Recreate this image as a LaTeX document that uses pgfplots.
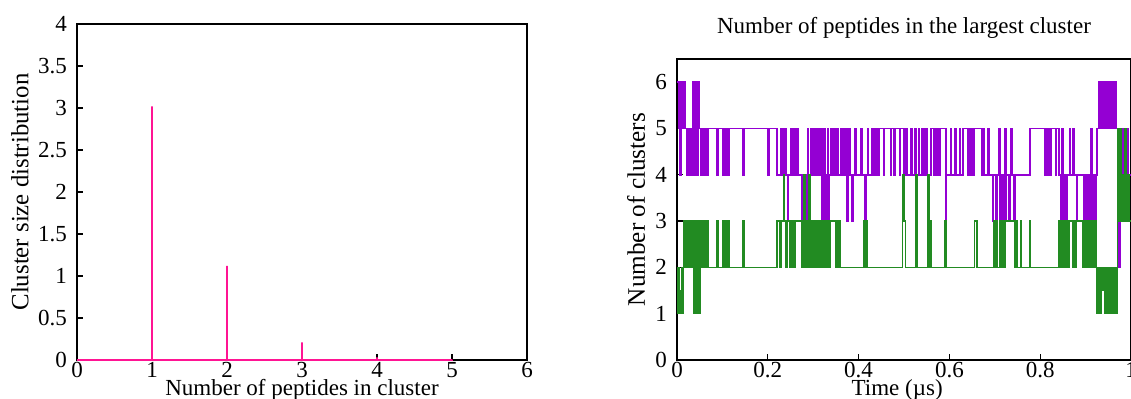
\documentclass[border=0pt]{standalone}
\usepackage{fontspec}
\setmainfont{Liberation Serif}
\usepackage{pgfplots}
\pgfplotsset{compat=1.18}
\usepackage{pgfplotstable}
\definecolor{dpink}{RGB}{255,20,147}
\definecolor{dviolet}{RGB}{148,0,211}
\definecolor{fgreen}{RGB}{34,139,34}

\pgfplotstableread{
t v
0.000 6
0.003 5
0.004 6
0.007 4
0.009 6
0.011 5
0.013 6
0.015 5
0.017 6
0.019 5
0.021 4
0.023 5
0.025 4
0.027 5
0.029 4
0.031 5
0.033 4
0.035 6
0.037 4
0.039 6
0.041 4
0.043 6
0.045 4
0.047 6
0.049 5
0.052 4
0.054 5
0.057 4
0.059 5
0.063 4
0.065 5
0.067 4
0.068 5
0.088 4
0.090 5
0.101 4
0.103 5
0.105 4
0.107 5
0.109 4
0.111 5
0.113 4
0.115 5
0.146 4
0.148 5
0.200 4
0.202 5
0.220 4
0.228 5
0.230 4
0.233 5
0.235 4
0.238 5
0.240 4
0.244 3
0.246 4
0.250 5
0.252 4
0.255 5
0.257 4
0.260 5
0.262 4
0.266 5
0.268 4
0.275 3
0.278 4
0.280 3
0.283 4
0.285 3
0.287 5
0.290 4
0.292 3
0.294 5
0.297 4
0.300 5
0.303 4
0.306 5
0.309 4
0.312 5
0.315 4
0.318 3
0.320 5
0.322 3
0.324 5
0.326 3
0.328 4
0.330 3
0.332 5
0.334 3
0.336 4
0.338 5
0.341 4
0.346 5
0.348 4
0.352 5
0.354 4
0.360 5
0.362 4
0.364 5
0.366 4
0.368 5
0.370 4
0.372 5
0.374 3
0.376 4
0.379 5
0.381 4
0.385 3
0.387 4
0.392 5
0.394 4
0.405 5
0.407 4
0.414 3
0.416 4
0.420 5
0.422 4
0.430 5
0.432 4
0.434 5
0.436 4
0.438 5
0.440 4
0.442 5
0.444 4
0.446 5
0.455 4
0.457 5
0.470 4
0.472 5
0.478 4
0.480 5
0.490 4
0.492 5
0.500 4
0.502 5
0.504 4
0.506 5
0.508 4
0.515 5
0.517 4
0.524 5
0.526 3
0.529 4
0.532 5
0.534 4
0.540 5
0.542 4
0.544 5
0.546 4
0.548 5
0.550 4
0.554 3
0.556 4
0.560 5
0.566 4
0.568 5
0.571 4
0.574 5
0.577 4
0.580 5
0.592 3
0.594 4
0.602 5
0.604 4
0.612 5
0.614 4
0.622 5
0.624 4
0.630 5
0.640 4
0.642 5
0.646 4
0.649 5
0.652 4
0.655 5
0.672 4
0.675 5
0.677 4
0.685 5
0.687 4
0.695 3
0.697 4
0.703 3
0.706 4
0.709 5
0.711 3
0.714 4
0.717 3
0.720 4
0.722 5
0.724 3
0.726 4
0.731 3
0.733 4
0.736 5
0.738 4
0.742 3
0.744 4
0.778 5
0.810 4
0.813 5
0.816 4
0.819 5
0.822 4
0.825 5
0.834 4
0.836 5
0.842 4
0.845 3
0.848 5
0.851 3
0.854 4
0.857 3
0.860 4
0.865 5
0.867 4
0.872 5
0.874 4
0.880 3
0.882 4
0.896 3
0.899 4
0.902 3
0.905 4
0.908 3
0.911 5
0.914 3
0.917 4
0.920 3
0.923 4
0.925 5
0.928 6
0.931 5
0.934 6
0.937 5
0.940 6
0.943 5
0.946 6
0.949 5
0.952 6
0.955 5
0.958 6
0.961 5
0.964 6
0.967 5
0.970 4
0.972 2
0.976 4
0.979 5
0.982 4
0.985 5
0.988 4
0.991 5
0.994 4
1.000 4
}\purpletable

\pgfplotstableread{
t v
0.000 1
0.002 2
0.004 1
0.006 1.5
0.008 1
0.010 2
0.012 1
0.014 2
0.016 3
0.018 2
0.020 3
0.022 2
0.024 3
0.026 2
0.028 3
0.030 2
0.032 3
0.034 2
0.036 1
0.038 3
0.040 1
0.042 3
0.044 1
0.046 3
0.048 1
0.050 2
0.052 3
0.054 2
0.057 3
0.059 2
0.063 3
0.065 2
0.067 3
0.068 2
0.088 3
0.090 2
0.101 3
0.103 2
0.105 3
0.107 2
0.109 3
0.111 2
0.113 3
0.115 2
0.146 3
0.148 2
0.220 3
0.227 2
0.229 3
0.235 4
0.237 3
0.240 2
0.242 3
0.248 2
0.250 3
0.253 2
0.255 3
0.258 2
0.260 3
0.275 2
0.278 3
0.280 4
0.282 2
0.285 3
0.288 2
0.291 4
0.293 2
0.296 3
0.299 2
0.302 3
0.305 2
0.308 3
0.311 2
0.314 3
0.317 2
0.320 3
0.323 2
0.326 3
0.329 2
0.332 3
0.335 2
0.337 3
0.350 2
0.352 3
0.354 2
0.357 3
0.359 2
0.412 3
0.414 2
0.416 3
0.418 2
0.497 4
0.500 3
0.503 2
0.527 4
0.530 2
0.553 4
0.555 2
0.557 3
0.559 2
0.590 3
0.592 2
0.655 3
0.661 2
0.698 3
0.700 2
0.704 3
0.706 2
0.711 3
0.714 2
0.717 3
0.720 2
0.723 3
0.745 2
0.748 3
0.750 2
0.757 3
0.759 2
0.777 3
0.779 2
0.840 3
0.843 2
0.846 3
0.849 2
0.852 3
0.855 2
0.858 3
0.861 2
0.864 3
0.872 2
0.874 3
0.877 2
0.879 3
0.893 2
0.896 3
0.899 2
0.902 3
0.905 2
0.908 3
0.911 2
0.914 3
0.917 2
0.920 3
0.923 2
0.925 1
0.928 2
0.931 1
0.934 2
0.937 1.5
0.940 2
0.943 1
0.946 2
0.949 1
0.952 2
0.955 1
0.958 2
0.961 1
0.964 2
0.967 1
0.970 5
0.972 3
0.975 5
0.978 3
0.981 4
0.984 3
0.987 5
0.990 3
0.993 4
0.996 3
1.000 3
}\greentable

\begin{document}
\begin{tikzpicture}
\pgfplotsset{
  every axis/.append style={
    scale only axis,
    axis line style={black, line width=0.75pt},
    tick style={black, line width=0.6pt},
    major tick length=3pt,
    xtick pos=left, ytick pos=left,
    tick align=inside,
    ticklabel style={font=\fontsize{11.5}{13}\selectfont},
    /pgf/number format/assume math mode=true,
    xticklabel style={yshift=2.5pt},
    yticklabel style={xshift=-1.5pt},
  }
}
\begin{axis}[
  at={(38.5pt,19.5pt)}, anchor=south west,
  width=225pt, height=168pt,
  xmin=0, xmax=6, ymin=0, ymax=4,
  xtick={0,1,2,3,4,5,6},
  ytick={0,0.5,1,1.5,2,2.5,3,3.5,4},
  xlabel={Number of peptides in cluster},
  ylabel={Cluster size distribution},
  xlabel style={at={(axis description cs:0.5,-0.088)}, anchor=center, font=\fontsize{11.5}{13}\selectfont},
  ylabel style={at={(axis description cs:-0.127,0.5)}, anchor=center, rotate=0, font=\fontsize{12.4}{14}\selectfont},
  clip=false,
]
\addplot[dpink, line width=1.4pt] coordinates {
  (0,0) (1,0) (1,3.02) (1,0) (2,0) (2,1.12) (2,0) (3,0) (3,0.21) (3,0)
  (4,0) (4,0.03) (4,0) (5,0) (5,0.005) (5,0)
};
\end{axis}

\begin{axis}[
  at={(338.5pt,19.5pt)}, anchor=south west,
  width=227pt, height=150.5pt,
  xmin=0, xmax=1, ymin=0, ymax=6.5,
  xtick={0,0.2,0.4,0.6,0.8,1},
  ytick={0,1,2,3,4,5,6},
  xlabel={Time (µs)},
  ylabel={Number of clusters},
  title={Number of peptides in the largest cluster},
  title style={at={(axis description cs:0.5,1.063)}, anchor=center, font=\fontsize{11.5}{13}\selectfont},
  xlabel style={at={(axis description cs:0.485,-0.098)}, anchor=center, font=\fontsize{11.5}{13}\selectfont},
  ylabel style={at={(axis description cs:-0.090,0.5)}, anchor=center, font=\fontsize{12.6}{14}\selectfont},
]
\addplot[dviolet, line width=0.8pt, const plot] table[x=t, y=v] {\purpletable};
\addplot[fgreen, line width=0.8pt, const plot] table[x=t, y=v] {\greentable};
\end{axis}
\pgfresetboundingbox
\useasboundingbox (0,0) rectangle (565.5pt,199.5pt);
\end{tikzpicture}
\end{document}
